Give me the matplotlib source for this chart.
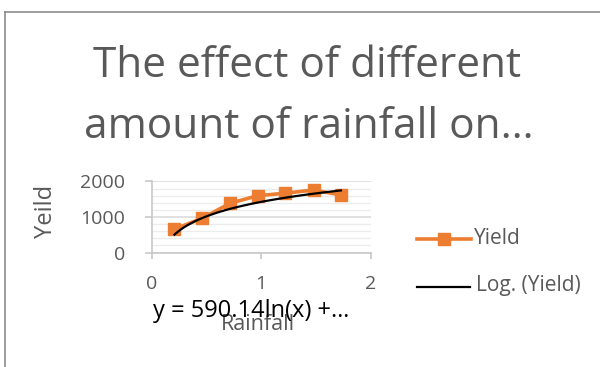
import numpy as np
import matplotlib
matplotlib.use("Agg")
import matplotlib.pyplot as plt
from matplotlib.lines import Line2D

plt.rcParams['font.family'] = ['Open Sans', 'DejaVu Sans']

# rainfall vs yield readings
rainfall = [0.21, 0.46, 0.72, 0.97, 1.22, 1.48, 1.73]
yield_vals = [660, 960, 1390, 1600, 1670, 1760, 1620]

# log trendline, y = a*ln(x) + b
trend_slope = 590.14
trend_intercept = 1425

title_lines = ["The effect of different", "amount of rainfall on…"]
eq_text = "y = 590.14ln(x) +…"
legend_labels = ["Yield", "Log. (Yield)"]

orange = '#ED7D31'
gray_txt = '#595959'
axis_gray = '#c8c8c8'

fig = plt.figure(figsize=(6, 3.67), dpi=100)
W, H = 600, 367

def fx(px):
    return px / W

def fy(py):
    return 1 - py / H

# chart frame (left and top edge of the chart box)
fig.add_artist(Line2D([fx(5), fx(5)], [fy(12), -0.1], color='#8c8c8c', lw=1.2))
fig.add_artist(Line2D([fx(5), 1.1], [fy(12), fy(12)], color='#8c8c8c', lw=1.2))

ax = fig.add_axes([fx(151.5), fy(252.5), fx(370.5) - fx(151.5), fy(181.5) - fy(252.5)])
ax.set_xlim(0, 2)
ax.set_ylim(0, 2000)

for s in ['top', 'right']:
    ax.spines[s].set_visible(False)
for s in ['left', 'bottom']:
    ax.spines[s].set_color(axis_gray)
    ax.spines[s].set_linewidth(1.2)

ax.set_xticks([0, 1, 2])
ax.set_yticks([0, 1000, 2000])
ax.set_yticks(np.arange(200, 2000, 200), minor=True)
ax.tick_params(axis='y', which='major', length=5, width=1.2, color=axis_gray,
               labelsize=14, labelcolor=gray_txt, pad=14)
ax.tick_params(axis='y', which='minor', length=0)
ax.tick_params(axis='x', length=4.5, width=1.2, color=axis_gray,
               labelsize=14, labelcolor=gray_txt, pad=12)
ax.grid(axis='y', which='major', color='#d9d9d9', lw=1.1)
ax.grid(axis='y', which='minor', color='#ececec', lw=1.0)
ax.set_axisbelow(True)

ax.plot(rainfall, yield_vals, color=orange, lw=2.6, marker='s', ms=8.5,
        clip_on=False, zorder=3)

xt = np.linspace(min(rainfall), max(rainfall), 100)
ax.plot(xt, trend_slope * np.log(xt) + trend_intercept, color='black', lw=1.6,
        clip_on=False, zorder=4)

# title, two lines
fig.text(fx(307), fy(77), title_lines[0], ha='center', va='baseline',
         fontsize=30.5, color=gray_txt)
fig.text(fx(309), fy(138), title_lines[1], ha='center', va='baseline',
         fontsize=30.5, color=gray_txt)

fig.text(fx(46), fy(211), "Yeild", rotation=90, ha='center', va='center',
         fontsize=17, color=gray_txt)
fig.text(fx(258), fy(324.5), "Rainfall", ha='center', va='center',
         fontsize=15.5, color=gray_txt)
fig.text(fx(251), fy(317), eq_text, ha='center', va='baseline',
         fontsize=17, color='black', zorder=5)

# legend
fig.add_artist(Line2D([fx(417), fx(471)], [fy(238.5), fy(238.5)], color=orange,
                      lw=2.6))
fig.add_artist(Line2D([fx(444)], [fy(238.5)], color=orange, marker='s', ms=8.5))
fig.add_artist(Line2D([fx(417), fx(470)], [fy(287), fy(287)], color='black',
                      lw=1.6))
fig.text(fx(474), fy(239), legend_labels[0], ha='left', va='center',
         fontsize=15, color=gray_txt)
fig.text(fx(476), fy(286), legend_labels[1], ha='left', va='center',
         fontsize=15, color=gray_txt)

fig.savefig("out.png", dpi=100, facecolor='white')
